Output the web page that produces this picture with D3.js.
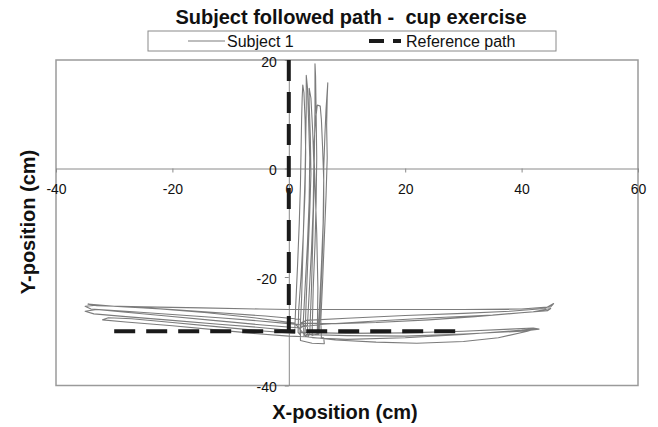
<!DOCTYPE html>
<html>
<head>
<meta charset="utf-8">
<script src="https://cdn.jsdelivr.net/npm/d3@7"></script>
<style>
  html, body { margin: 0; padding: 0; background: #fff; }
  svg { display: block; font-family: "Liberation Sans", Arial, sans-serif; }
</style>
</head>
<body>
<svg id="chart" width="658" height="427"></svg>
<script>
// ---------------- data ----------------
const chartTitle = "Subject followed path -  cup exercise";
const xTitle = "X-position (cm)";
const yTitle = "Y-position (cm)";
const seriesNames = ["Subject 1", "Reference path"];
const xTicks = [-40, -20, 0, 20, 40, 60];
const yTicks = [-40, -20, 0, 20];

// Reference path (null = break between the two legs)
const refX = [0, 0, null, -30, 30];
const refY = [20, -30, null, -30, -30];

// Subject 1 trajectory (one continuous series)
const subjX = [
  // vertical reaches
  1.0, 1.2, 1.5, 1.8, 2.0, 2.1, 2.2, 2.3, 2.4, 2.6, 2.8, 2.9, 2.8, 2.5, 2.1, 1.7, 1.6,
  1.9, 2.2, 2.4, 2.6, 2.8, 2.9, 3.0, 3.0, 3.2, 3.4, 3.6, 3.5, 3.2, 2.8, 2.5, 2.6,
  2.8, 3.0, 3.3, 3.6, 3.8, 3.7, 3.5, 3.5, 3.8, 4.1, 4.3, 4.2, 3.9, 3.5, 3.2, 3.3,
  3.6, 3.9, 4.1, 4.3, 4.4, 4.5, 4.5, 4.6, 4.7, 4.8, 4.7, 4.5, 4.2, 4.0,
  4.9, 5.0, 4.8, 4.5, 4.3, 4.6, 4.9, 5.4, 5.6, 5.8, 6.0, 5.9, 5.6, 5.3, 5.0,
  5.2, 5.5, 5.8, 6.0, 6.0, 6.2, 6.4, 6.7, 6.6, 6.5, 6.6, 6.4, 6.1, 5.8, 5.5, 5.6,
  6.0, 6.1, 4.0, 2.0,
  // left reaches
  2.0, -4, -12, -20, -28, -33, -35, -34, -28, -20, -12, -5, 0, 3,
  2.0, -5, -13, -21, -28, -33, -35, -33.5, -28, -20, -12, -5, 1,
  1.0, -5, -12, -20, -27, -31, -32, -28, -20, -12, -6, 0, 3,
  1.0, -6, -14, -22, -30, -34.5, -33, -25, -15, -5, 0,
  // across to the right, then right reaches
  10, 20, 30, 40, 45, 45.5,
  44, 38, 30, 20, 10, 3,
  2, 8, 15, 24, 32, 40, 44.5, 45, 42, 35, 25, 15, 6, 2,
  2, 10, 20, 30, 38, 42, 43, 40, 30, 20, 10, 3,
  3, 8, 15, 22, 30, 36, 41, 42.5, 40, 30, 20, 10, 4
];
const subjY = [
  -30.5, -25, -18, -10, -3, 3, 9, 13, 15.4, 14, 9, 3, -4, -12, -20, -26, -30.2,
  -30.6, -24, -16, -8, -1, 5, 11, 17.2, 15, 9, 2, -6, -14, -22, -28, -30.8,
  -30.4, -24, -16, -8, -1, 6, 12, 14.8, 13, 7, 1, -7, -15, -23, -29, -31,
  -30.5, -22, -14, -5, 3, 11, 19.3, 17, 10, 2, -6, -14, -22, -30.8,
  -30.5, -22, -12, -3, 4, 9, 11.7, 11.5, 9, 4, -2, -10, -18, -25, -30.6,
  -30.4, -23, -15, -7, 0, 6, 11, 15.8, 13, 8, 2, -5, -13, -21, -28, -31.2,
  -31.2, -32.3, -32.2, -31.7,
  -27.8, -27.2, -26.6, -26.0, -25.5, -25.2, -25.4, -25.9, -26.3, -26.9, -27.5, -28.1, -28.6, -28.9,
  -29.4, -28.8, -28.0, -27.2, -26.5, -26.0, -26.3, -26.8, -27.3, -28.0, -28.7, -29.3, -29.9,
  -30.4, -29.9, -29.2, -28.4, -27.7, -27.5, -27.9, -28.3, -29.0, -29.8, -30.4, -30.9, -31.0,
  -28.5, -27.5, -26.6, -25.9, -25.4, -25.0, -25.3, -25.5, -25.7, -25.9, -26.0,
  -26.0, -26.0, -26.0, -25.9, -25.5, -24.9,
  -25.8, -26.3, -26.7, -27.1, -27.6, -28.0,
  -28.5, -28.6, -28.4, -27.9, -27.3, -26.6, -26.2, -25.8, -26.4, -27.0, -27.5, -28.1, -28.7, -29.2,
  -30.2, -30.4, -30.3, -30.0, -29.6, -29.4, -29.6, -30.0, -30.5, -30.9, -30.8, -30.6,
  -31.0, -31.6, -32.0, -32.2, -31.9, -31.2, -30.0, -29.5, -29.8, -30.6, -31.2, -31.5, -31.2
];

// ---------------- chart ----------------
const svg = d3.select("#chart");
const plot = { left: 56, right: 638, top: 60, bottom: 385.5 };

const x = d3.scaleLinear().domain([-40, 60]).range([plot.left, plot.right]);
const y = d3.scaleLinear().domain([-40, 20]).range([plot.bottom, plot.top]);

// plot area frame
svg.append("rect")
  .attr("x", plot.left).attr("y", plot.top)
  .attr("width", plot.right - plot.left).attr("height", plot.bottom - plot.top)
  .attr("fill", "#fff").attr("stroke", "#9a9a9a").attr("stroke-width", 1.5);

// axes through the origin (hyphen-minus labels like the original)
const fmt = d => String(d);
const xAxis = svg.append("g")
  .attr("transform", `translate(0,${y(0)})`)
  .call(d3.axisBottom(x).tickValues(xTicks).tickSize(4).tickSizeOuter(0).tickPadding(12)
        .tickFormat(fmt));
const yAxis = svg.append("g")
  .attr("transform", `translate(${x(0)},0)`)
  .call(d3.axisLeft(y).tickValues(yTicks).tickSize(4).tickSizeOuter(0).tickPadding(8)
        .tickFormat(fmt));
[xAxis, yAxis].forEach(g => {
  g.select(".domain").attr("stroke", "#8a8a8a").attr("stroke-width", 1);
  g.selectAll(".tick line").attr("stroke", "#8a8a8a");
  g.selectAll(".tick text").attr("fill", "#111").attr("font-size", 14)
    .attr("font-family", "'Liberation Sans', Arial, sans-serif");
});
yAxis.selectAll(".tick text").attr("dy", "0.45em");

// Subject path
const subjPts = subjX.map((v, i) => [v, subjY[i]]);
const line = d3.line().defined(d => d[0] !== null && d[1] !== null)
  .x(d => x(d[0])).y(d => y(d[1]));
svg.append("path")
  .datum(subjPts)
  .attr("d", line)
  .attr("fill", "none").attr("stroke", "#7c7c7c").attr("stroke-width", 1.1)
  .attr("stroke-linejoin", "round");

// Reference path
const refPts = refX.map((v, i) => [v, refY[i]]);
svg.append("path")
  .datum(refPts)
  .attr("d", line)
  .attr("fill", "none").attr("stroke", "#1a1a1a").attr("stroke-width", 4)
  .attr("stroke-dasharray", "21,11");

// Title
svg.append("text")
  .attr("x", 351).attr("y", 24)
  .attr("text-anchor", "middle")
  .attr("font-size", 20).attr("font-weight", "bold")
  .style("white-space", "pre")
  .attr("fill", "#111")
  .text(chartTitle);

// Legend
const leg = svg.append("g");
leg.append("rect").attr("x", 148).attr("y", 31).attr("width", 408).attr("height", 20)
  .attr("fill", "#fff").attr("stroke", "#8a8a8a").attr("stroke-width", 1);
leg.append("line").attr("x1", 188).attr("x2", 225).attr("y1", 41).attr("y2", 41)
  .attr("stroke", "#7c7c7c").attr("stroke-width", 1.1);
leg.append("text").attr("x", 227).attr("y", 47).attr("font-size", 16).attr("fill", "#111")
  .text(seriesNames[0]);
leg.append("line").attr("x1", 369).attr("x2", 401).attr("y1", 41).attr("y2", 41)
  .attr("stroke", "#1a1a1a").attr("stroke-width", 4).attr("stroke-dasharray", "15,9");
leg.append("text").attr("x", 406).attr("y", 47).attr("font-size", 16).attr("fill", "#111")
  .text(seriesNames[1]);

// Axis titles
svg.append("text")
  .attr("x", 345).attr("y", 419)
  .attr("text-anchor", "middle")
  .attr("font-size", 20).attr("font-weight", "bold").attr("fill", "#111")
  .text(xTitle);
svg.append("text")
  .attr("transform", "translate(35,222) rotate(-90)")
  .attr("text-anchor", "middle")
  .attr("font-size", 20).attr("font-weight", "bold").attr("fill", "#111")
  .text(yTitle);
</script>
</body>
</html>
